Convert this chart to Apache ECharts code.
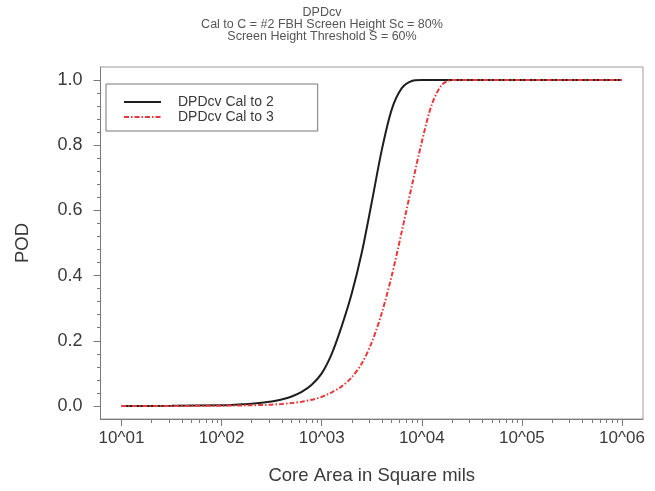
<!DOCTYPE html>
<html>
<head>
<meta charset="utf-8">
<script src="https://cdn.jsdelivr.net/npm/echarts@6/dist/echarts.min.js"></script>
<style>
html,body{margin:0;padding:0;background:#fff;}
#chart{width:655px;height:491px;}
</style>
</head>
<body>
<div id="chart"></div>
<script>
// x values are log10 of core area (square mils)
const cal2Log = [1.0, 1.5, 2.0, 2.1, 2.2, 2.3, 2.4, 2.5, 2.6, 2.7, 2.8, 2.9, 3.0, 3.1, 3.2, 3.3, 3.4, 3.5, 3.6, 3.7, 3.8, 3.9, 4.0, 4.1, 4.5, 5.0, 5.5, 6.0];
const cal2Pod = [0.0, 0.0005, 0.002, 0.003, 0.005, 0.007, 0.010, 0.014, 0.020, 0.029, 0.043, 0.065, 0.10, 0.16, 0.245, 0.345, 0.47, 0.625, 0.785, 0.91, 0.975, 0.997, 1.0, 1.0, 1.0, 1.0, 1.0, 1.0];
const cal3Log = [1.0, 1.5, 2.0, 2.1, 2.2, 2.3, 2.4, 2.5, 2.6, 2.7, 2.8, 2.9, 3.0, 3.1, 3.2, 3.3, 3.4, 3.5, 3.6, 3.7, 3.8, 3.9, 4.0, 4.1, 4.2, 4.3, 4.4, 4.5, 5.0, 5.5, 6.0];
const cal3Pod = [0.0, 0.0, 0.001, 0.0013, 0.0017, 0.0022, 0.003, 0.004, 0.006, 0.009, 0.013, 0.019, 0.028, 0.042, 0.060, 0.088, 0.13, 0.195, 0.285, 0.40, 0.535, 0.675, 0.81, 0.925, 0.985, 1.0, 1.0, 1.0, 1.0, 1.0, 1.0];
const seriesNames = ['DPDcv Cal to 2', 'DPDcv Cal to 3'];
const xTickExps = [1, 2, 3, 4, 5, 6];
const xTickLabels = ['10^01', '10^02', '10^03', '10^04', '10^05', '10^06'];
const yTicks = [0, 0.2, 0.4, 0.6, 0.8, 1.0];
const titleLines = ['DPDcv', 'Cal to C = #2 FBH Screen Height Sc = 80%', 'Screen Height Threshold S = 60%'];

const xMinor = [];
for (let n = 1; n <= 5; n++) for (let k = 2; k <= 9; k++) xMinor.push(Math.log10(k * Math.pow(10, n)));
const yMinor = [];
for (let i = 1; i < 25; i++) if (i % 5 !== 0) yMinor.push(+(i * 0.04).toFixed(2));

const FONT = '"Liberation Sans", Arial, sans-serif';
const TXT = '#3a3a3a';
const AX = '#7a7a7a';
const XMIN = 0.79, XMAX = 6.21, YMIN = -0.04, YMAX = 1.04;

const chart = echarts.init(document.getElementById('chart'), null, {renderer: 'canvas'});
chart.setOption({
  backgroundColor: '#fff',
  animation: false,
  textStyle: {fontFamily: FONT},
  graphic: titleLines.map((t, i) => ({
    type: 'text', x: 322, y: 13 + i * 12, silent: true,
    style: {text: t, textAlign: 'center', textVerticalAlign: 'middle', fontSize: 12.5, fill: '#555', fontFamily: FONT}
  })),
  grid: {left: 100.5, right: 12, top: 67, bottom: 72, show: true, borderColor: '#9a9a9a', borderWidth: 1, backgroundColor: 'transparent'},
  legend: {
    left: 106, top: 84, orient: 'vertical',
    data: seriesNames,
    backgroundColor: '#fff', borderColor: '#777', borderWidth: 1, borderRadius: 0,
    padding: [11, 44, 7, 17],
    itemWidth: 37, itemHeight: 14, itemGap: 1,
    itemStyle: {color: 'transparent', borderWidth: 0},
    textStyle: {fontSize: 14, lineHeight: 14, color: TXT, fontFamily: FONT, padding: [0, 0, 0, 12]}
  },
  xAxis: [{
    type: 'value', min: XMIN, max: XMAX, position: 'bottom',
    name: 'Core Area in Square mils', nameLocation: 'middle', nameGap: 47,
    nameTextStyle: {fontSize: 18.5, color: TXT, fontFamily: FONT},
    axisLine: {show: true, onZero: false, lineStyle: {color: AX, width: 1}},
    axisTick: {show: true, length: 7, lineStyle: {color: AX}, customValues: xTickExps},
    axisLabel: {show: true, margin: 11, fontSize: 17, color: TXT, fontFamily: FONT,
      customValues: xTickExps,
      formatter: function (v) { const i = xTickExps.indexOf(Math.round(v)); return i >= 0 ? xTickLabels[i] : ''; }},
    splitLine: {show: false}
  }, {
    type: 'value', min: XMIN, max: XMAX, position: 'bottom', gridIndex: 0,
    axisLine: {show: false, onZero: false},
    axisTick: {show: true, length: 4, lineStyle: {color: AX}, customValues: xMinor},
    axisLabel: {show: false},
    splitLine: {show: false}
  }],
  yAxis: [{
    type: 'value', min: YMIN, max: YMAX, position: 'left',
    name: 'POD', nameLocation: 'middle', nameGap: 68, nameRotate: 90,
    nameTextStyle: {fontSize: 18.5, color: TXT, fontFamily: FONT},
    axisLine: {show: true, onZero: false, lineStyle: {color: AX, width: 1}},
    axisTick: {show: true, length: 7, lineStyle: {color: AX}, customValues: yTicks},
    axisLabel: {show: true, margin: 18, fontSize: 18, color: TXT, fontFamily: FONT,
      customValues: yTicks, formatter: function (v) { return v.toFixed(1); }},
    splitLine: {show: false}
  }, {
    type: 'value', min: YMIN, max: YMAX, position: 'left', gridIndex: 0,
    axisLine: {show: false, onZero: false},
    axisTick: {show: true, length: 3.5, lineStyle: {color: AX}, customValues: yMinor},
    axisLabel: {show: false},
    splitLine: {show: false}
  }],
  series: [{
    name: seriesNames[0], type: 'line', xAxisIndex: 0, yAxisIndex: 0,
    data: cal2Log.map((x, i) => [x, cal2Pod[i]]),
    symbol: 'none', showSymbol: false, smooth: 0.3,
    lineStyle: {color: '#1e1e1e', width: 2},
    itemStyle: {color: '#1e1e1e'},
    z: 2
  }, {
    name: seriesNames[1], type: 'line', xAxisIndex: 0, yAxisIndex: 0,
    data: cal3Log.map((x, i) => [x, cal3Pod[i]]),
    symbol: 'none', showSymbol: false, smooth: 0.3,
    lineStyle: {color: '#e8383a', width: 2, type: [5, 2, 1.5, 2]},
    itemStyle: {color: '#e8383a'},
    z: 3
  }]
});
</script>
</body>
</html>
